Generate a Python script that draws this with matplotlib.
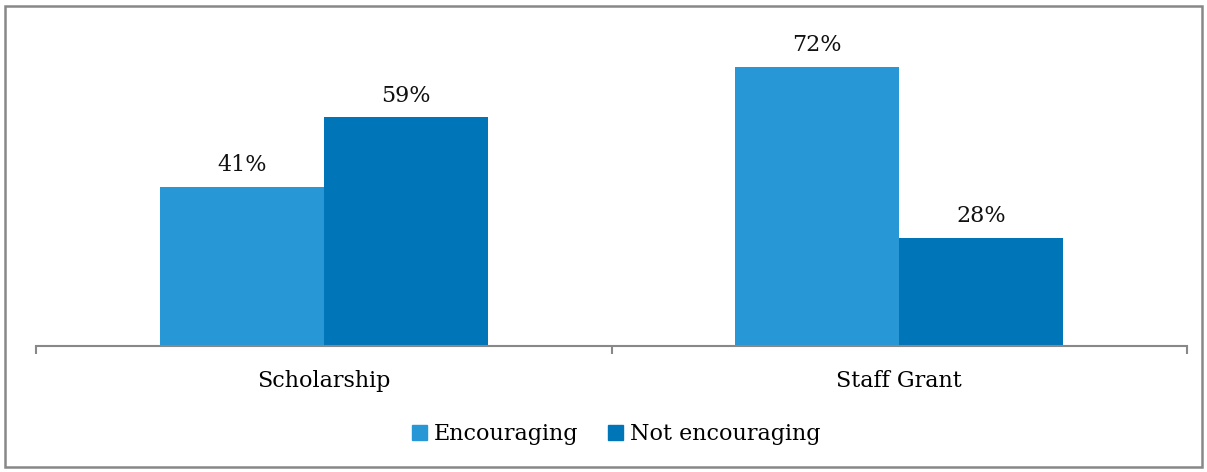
import matplotlib
matplotlib.use("Agg")
import matplotlib.pyplot as plt
from matplotlib.patches import Rectangle, Patch

categories = ["Scholarship", "Staff Grant"]
series_names = ["Encouraging", "Not encouraging"]
encouraging = [41, 72]
not_encouraging = [59, 28]
colors = ["#2897D5", "#0075B8"]

plt.rcParams["font.family"] = ["DejaVu Serif"]

W, H = 1207, 472
fig = plt.figure(figsize=(W / 100, H / 100), dpi=100)
ax = fig.add_axes([36 / W, 1 - 346 / H, (1187 - 36) / W, (346 - 36) / H])

x = list(range(len(categories)))
bw = 164 / 575.5
for vals, off, col in ((encouraging, -bw / 2, colors[0]), (not_encouraging, bw / 2, colors[1])):
    bars = ax.bar([i + off for i in x], vals, width=bw, color=col, linewidth=0)
    for b, v in zip(bars, vals):
        ax.text(b.get_x() + b.get_width() / 2, v + 2.8, f"{v}%", ha="center", va="bottom",
                fontsize=16, color="#111111")

ax.set_xlim(-0.5, len(categories) - 0.5)
ax.set_ylim(0, 80)
ax.set_yticks([])
ax.set_xticks(x)
ax.set_xticklabels(categories, fontsize=16)
ax.tick_params(axis="x", which="major", length=0, pad=17)
ax.set_xticks([-0.5, 0.5, 1.5], minor=True)
ax.tick_params(axis="x", which="minor", length=6, width=1.5, color="#888888", direction="out")
for s in ("top", "right", "left"):
    ax.spines[s].set_visible(False)
ax.spines["bottom"].set_color("#888888")
ax.spines["bottom"].set_linewidth(1.5)

handles = [Patch(color=c, label=n) for c, n in zip(colors, series_names)]
fig.legend(handles=handles, loc="center", bbox_to_anchor=(616 / W, 1 - 434 / H), ncol=2,
           frameon=False, fontsize=16, handlelength=0.68, handleheight=0.68,
           handletextpad=0.3, columnspacing=1.35)

fig.patches.append(Rectangle((5 / W, 1 - 467 / H), 1197 / W, 461 / H, transform=fig.transFigure,
                             fill=False, edgecolor="#888888", linewidth=1.8))

fig.savefig("out.png", dpi=100)
